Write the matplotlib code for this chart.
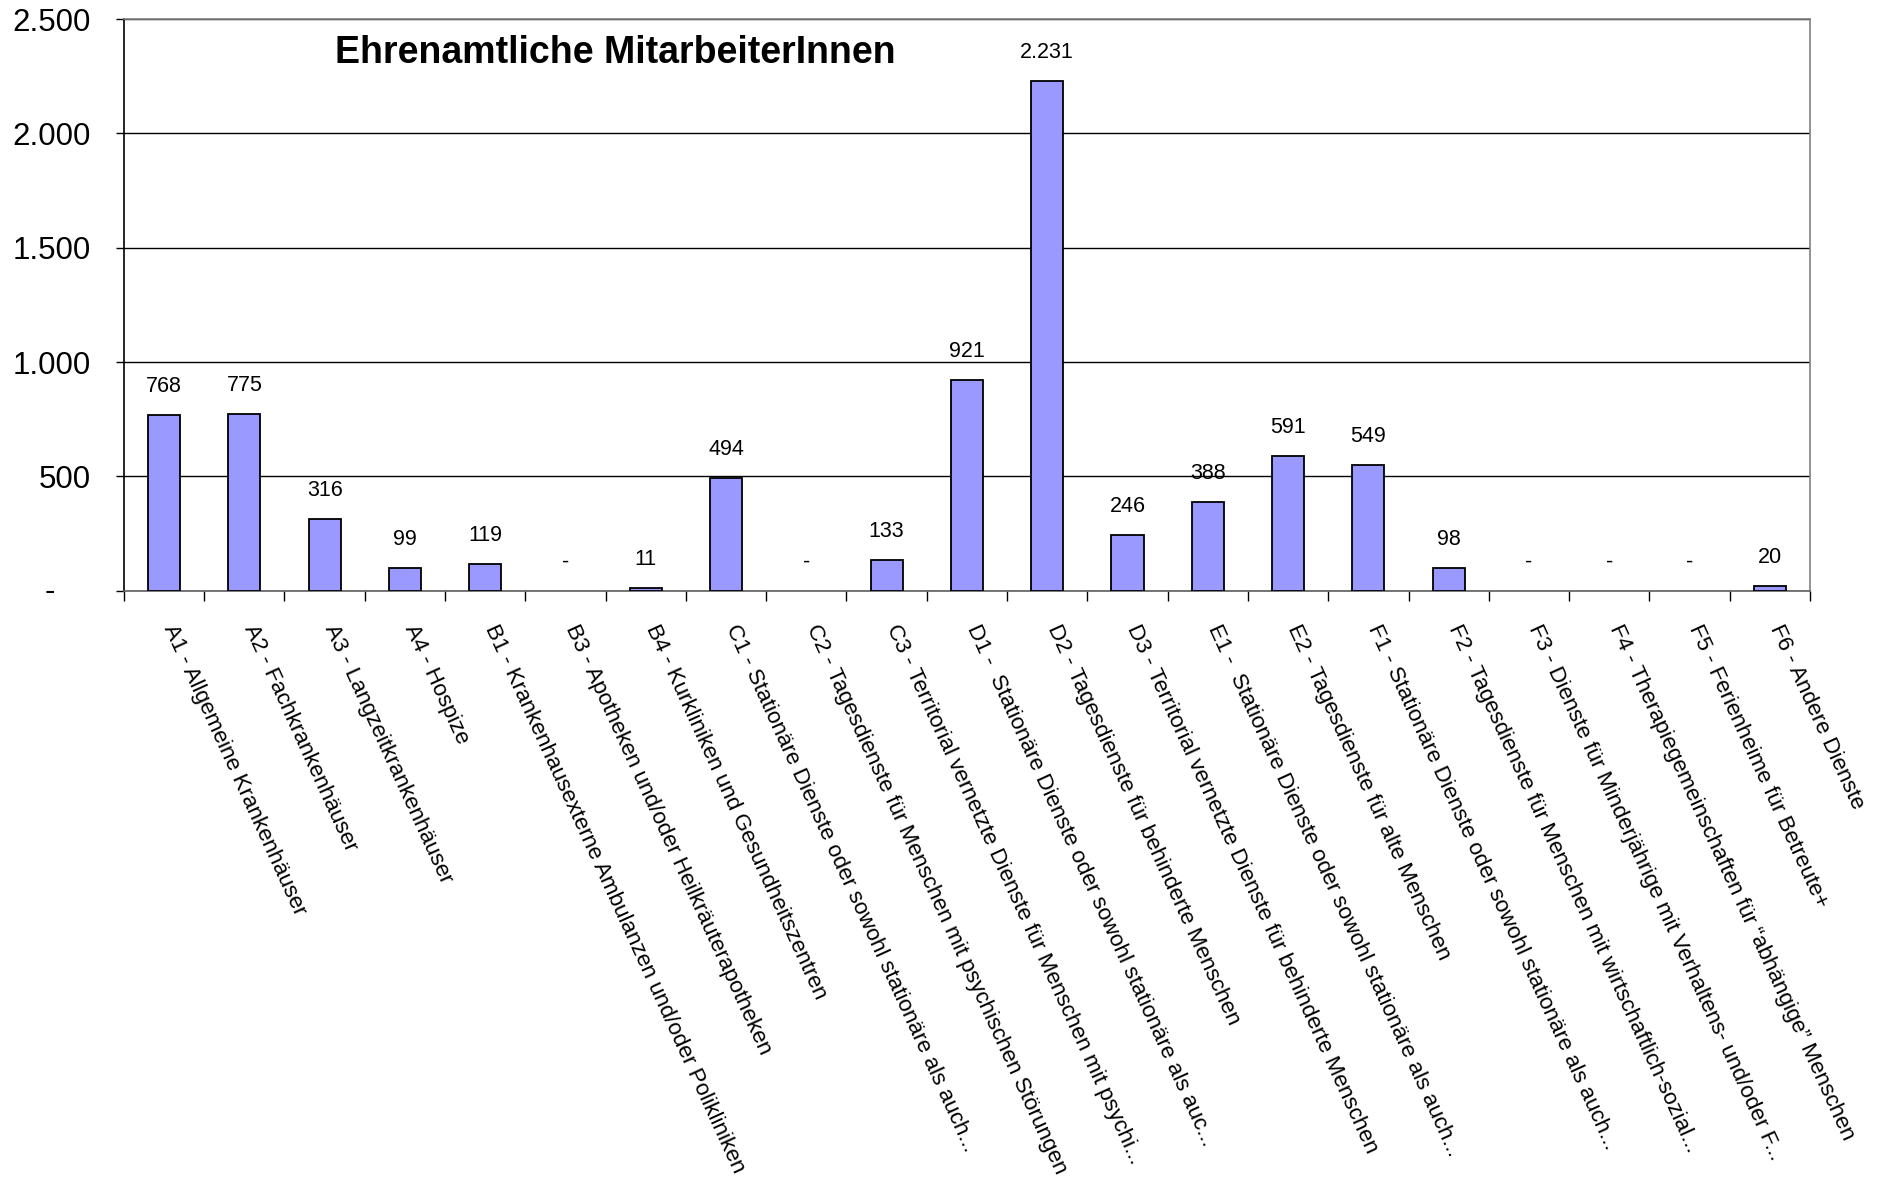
import matplotlib
matplotlib.use('Agg')
import matplotlib.pyplot as plt
import matplotlib.transforms as mtransforms

categories = [
    "A1 - Allgemeine Krankenhäuser",
    "A2 - Fachkrankenhäuser",
    "A3 - Langzeitkrankenhäuser",
    "A4 - Hospize",
    "B1 - Krankenhausexterne Ambulanzen und/oder Polikliniken",
    "B3 - Apotheken und/oder Heilkräuterapotheken",
    "B4 - Kurkliniken und Gesundheitszentren",
    "C1 - Stationäre Dienste oder sowohl stationäre als auch...",
    "C2 - Tagesdienste für Menschen mit psychischen Störungen",
    "C3 - Territorial vernetzte Dienste für Menschen mit psychi...",
    "D1 -  Stationäre Dienste oder sowohl stationäre als auc...",
    "D2 - Tagesdienste für behinderte Menschen",
    "D3 - Territorial vernetzte Dienste für behinderte Menschen",
    "E1 -  Stationäre Dienste oder sowohl stationäre als auch...",
    "E2 - Tagesdienste für alte Menschen",
    "F1 - Stationäre Dienste oder sowohl stationäre als auch...",
    "F2 - Tagesdienste für Menschen mit wirtschaftlich-sozial...",
    "F3 - Dienste für Minderjährige mit Verhaltens- und/oder F...",
    "F4 - Therapiegemeinschaften für \u201cabhängige\u201d Menschen",
    "F5 - Ferienheime für Betreute+",
    "F6 - Andere Dienste",
]
values = [768, 775, 316, 99, 119, 0, 11, 494, 0, 133, 921, 2231, 246, 388, 591,
          549, 98, 0, 0, 0, 20]
y_ticks = [0, 500, 1000, 1500, 2000, 2500]
title = "Ehrenamtliche MitarbeiterInnen"

plt.rcParams['font.family'] = ['Liberation Sans', 'DejaVu Sans']


def fmt(v):
    return '-' if v == 0 else f'{int(v):,}'.replace(',', '.')


fig = plt.figure(figsize=(18.83, 11.96), dpi=100)
ax = fig.add_axes([0.0658, 0.506, 0.8954, 0.478])

x = list(range(len(categories)))
edgecolors = ['none' if v == 0 else 'black' for v in values]
ax.bar(x, values, width=0.4, color='#9999FF', edgecolor=edgecolors,
       linewidth=1.3, zorder=3)

ax.set_xlim(-0.5, len(categories) - 0.5)
ax.set_ylim(y_ticks[0], y_ticks[-1])

# y axis
ax.set_yticks(y_ticks)
ax.set_yticklabels(['' if t == 0 else fmt(t) for t in y_ticks], fontsize=22.5)
ax.tick_params(axis='y', length=6, width=1, pad=18, direction='out')
ax.annotate('-', xy=(0, 0), xycoords=('axes fraction', 'data'),
            xytext=(-53, -1), textcoords='offset points',
            ha='center', va='center', fontsize=22.5)
ax.yaxis.grid(True, color='black', linewidth=1.0, zorder=0)
ax.set_axisbelow(True)

# x axis
ax.set_xticks(x)
ax.set_xticklabels(categories, rotation=-65.5, ha='left', va='center',
                   rotation_mode='anchor', fontsize=16.2)
ax.tick_params(axis='x', which='major', length=0, pad=25)
offset = mtransforms.ScaledTranslation(3.5 / 72, 0, fig.dpi_scale_trans)
for lbl in ax.get_xticklabels():
    lbl.set_transform(lbl.get_transform() + offset)
ax.set_xticks([i - 0.5 for i in range(len(categories) + 1)], minor=True)
ax.tick_params(axis='x', which='minor', length=7, width=1, direction='out',
               color='black')

for side in ['top', 'right']:
    ax.spines[side].set_color('#808080')
    ax.spines[side].set_linewidth(1.2)
ax.spines['left'].set_color('black')
ax.spines['left'].set_linewidth(1.2)
ax.spines['bottom'].set_color('#606060')
ax.spines['bottom'].set_linewidth(1.2)

# data labels
for xi, v in zip(x, values):
    ax.annotate(fmt(v), xy=(xi, v), xytext=(0, 20.5), textcoords='offset points',
                ha='center', va='center', fontsize=15.5)

ax.text(0.2917, 0.941, title, transform=ax.transAxes, ha='center',
        va='center', fontsize=27, fontweight='bold')

fig.savefig('out.png', dpi=100)
